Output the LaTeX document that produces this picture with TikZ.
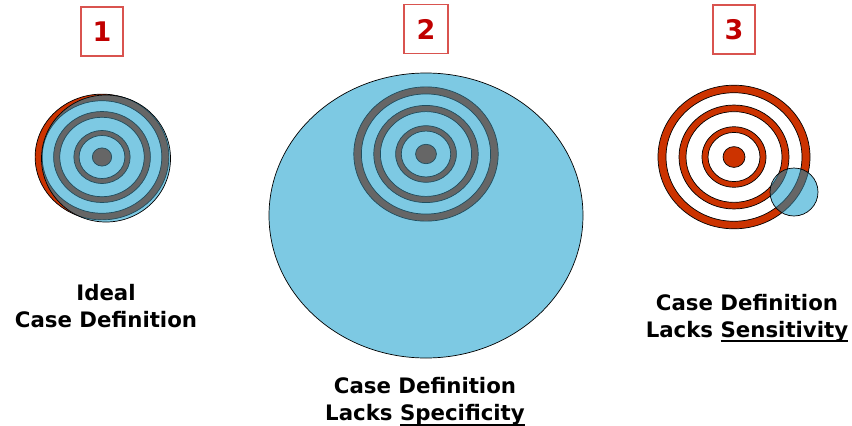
\documentclass[tikz,border=0pt]{standalone}
\usepackage{fontspec}
\setmainfont{DejaVu Sans}
\usepackage{tikz}
\definecolor{targetred}{HTML}{CC3300}
\definecolor{skyfill}{HTML}{7DC9E3}
\definecolor{ringgray}{HTML}{666666}
\definecolor{ringedge}{HTML}{1F4E5F}
\definecolor{boxred}{HTML}{D9534F}
\definecolor{numred}{HTML}{C00000}
\newcommand{\undertext}[1]{{\setbox0\hbox{#1}\rlap{\rule[-5pt]{\wd0}{2pt}}\box0}}

\begin{document}
\begin{tikzpicture}[x=1pt, y=-1pt,
  numbox/.style={draw=boxred, line width=1.2pt, minimum width=42, minimum height=49, inner sep=0pt, text=numred, font=\fontsize{27}{30}\selectfont\bfseries},
  caption/.style={align=center, inner sep=0pt, font=\fontsize{21.3}{27}\selectfont\bfseries},
  field/.style={fill=skyfill},
  rim/.style={draw=black, line width=0.7pt},
  pics/bullseye/.style 2 args={code={
    \foreach \ro/\ri in {76/68, 55/48, 32/26}
      \path[fill=#1, draw=#2, line width=0.7pt, even odd rule] (0,0) circle (\ro) (0,0) circle (\ri);
    \path[fill=#1, draw=#2, line width=0.7pt] (0,0) circle (11);
  }},
]
  \useasboundingbox (0,0) rectangle (852,426);

  % Numbers
  \node[numbox] (num1) at (102,31.5) {1};
  \node[numbox, minimum width=44] (num2) at (426,29) {2};
  \node[numbox] (num3) at (734,29.5) {3};

  % Target 1: ideal
  \pic[scale=0.88, yscale=0.94] at (102,157) {bullseye={targetred}{black}};
  \fill[field] (106,158.5) ellipse [x radius=64.5, y radius=63.5];
  \begin{scope}
    \clip (106,158.5) ellipse [x radius=64.5, y radius=63.5];
    \pic[scale=0.88, yscale=0.94] at (102,157) {bullseye={ringgray}{ringedge}};
  \end{scope}
  \draw[rim] (106,158.5) ellipse [x radius=64.5, y radius=63.5];

  % Target 2: lacks specificity
  \filldraw[field, rim] (426,215.5) ellipse [x radius=157, y radius=142.5];
  \pic[scale=0.95, yscale=0.93] at (426,154) {bullseye={ringgray}{ringedge}};

  % Target 3: lacks sensitivity
  \pic[scale=1, yscale=0.945] at (734,157) {bullseye={targetred}{black}};
  \fill[field] (794,192) ellipse [x radius=24, y radius=24];
  \begin{scope}
    \clip (794,192) ellipse [x radius=24, y radius=24];
    \pic[scale=1, yscale=0.945] at (734,157) {bullseye={ringgray}{ringedge}};
  \end{scope}
  \draw[rim] (794,192) ellipse [x radius=24, y radius=24];

  % Labels
  \node[caption, anchor=base] (lab1) at (106,327) {Ideal\\Case Definition};
  \node[caption, anchor=base] (lab2) at (425,420.5) {Case Definition\\Lacks \undertext{Specificity}};
  \node[caption, anchor=base] (lab3) at (747,337) {Case Definition\\Lacks \undertext{Sensitivity}};

\end{tikzpicture}
\end{document}
